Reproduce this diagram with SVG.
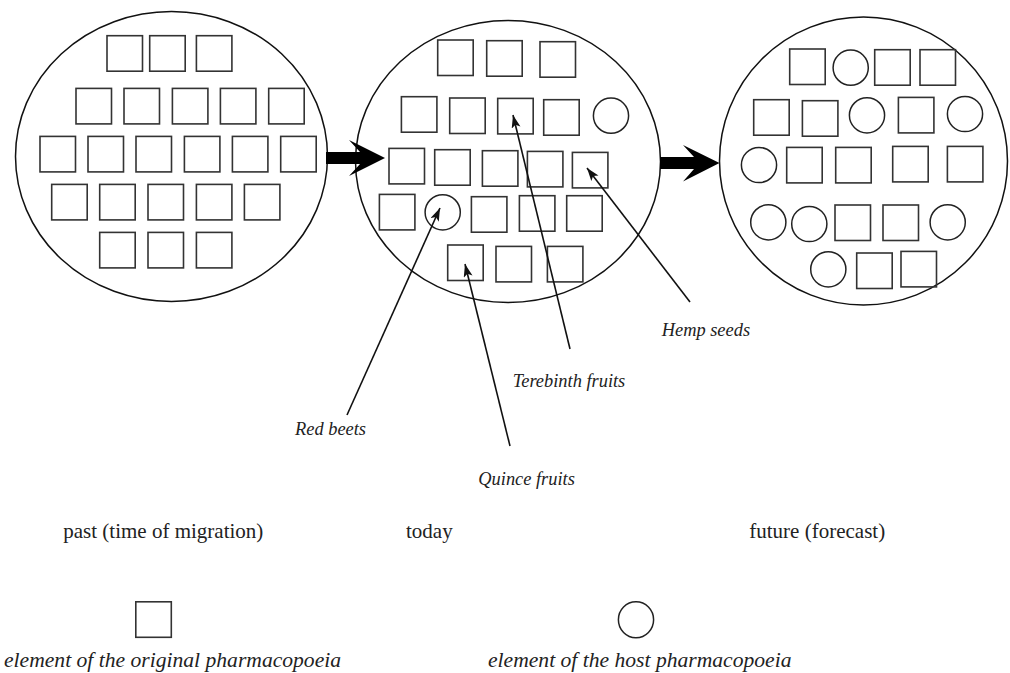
<svg xmlns="http://www.w3.org/2000/svg" width="1010" height="673" viewBox="0 0 1010 673">
<style>
.pool{fill:none;stroke:#111;stroke-width:1.5}
.sq{fill:none;stroke:#333;stroke-width:1.6}
.ci{fill:none;stroke:#222;stroke-width:1.5}
.ptr{stroke:#111;stroke-width:1.6;fill:none;marker-end:url(#ah)}
.big{fill:#000}
.lab{font-family:"Liberation Serif","Times New Roman",serif;font-style:italic;font-size:18.4px;fill:#222}
.per{font-family:"Liberation Serif","Times New Roman",serif;font-size:21px;fill:#222}
.leg{font-family:"Liberation Serif","Times New Roman",serif;font-style:italic;font-size:21.6px;fill:#222}
</style>
<defs>
<marker id="ah" markerUnits="userSpaceOnUse" markerWidth="14" markerHeight="10" refX="13" refY="4.5" orient="auto">
<path d="M0,0 L13,4.5 L0,9 L3,4.5 Z" fill="#111"/>
</marker>
<rect id="s" width="35.5" height="35.5" class="sq"/>
<circle id="c" r="17.6" class="ci"/>
</defs>

<g id="past">
<ellipse class="pool" cx="171.5" cy="156.5" rx="156" ry="145"/>
<use href="#s" x="107" y="35.7"/><use href="#s" x="149.7" y="35.7"/><use href="#s" x="196.4" y="35.7"/>
<use href="#s" x="76" y="88.4"/><use href="#s" x="124" y="88.4"/><use href="#s" x="172.4" y="88.4"/><use href="#s" x="220.4" y="88.4"/><use href="#s" x="268.7" y="88.4"/>
<use href="#s" x="40" y="136.4"/><use href="#s" x="88" y="136.4"/><use href="#s" x="136" y="136.4"/><use href="#s" x="184.4" y="136.4"/><use href="#s" x="232.4" y="136.4"/><use href="#s" x="280.7" y="136.4"/>
<use href="#s" x="51.7" y="184.4"/><use href="#s" x="99.7" y="184.4"/><use href="#s" x="148" y="184.4"/><use href="#s" x="196.4" y="184.4"/><use href="#s" x="244.4" y="184.4"/>
<use href="#s" x="99.7" y="232.4"/><use href="#s" x="148" y="232.4"/><use href="#s" x="196.4" y="232.4"/>
</g>

<g id="today">
<ellipse class="pool" cx="508" cy="161.5" rx="152.5" ry="141"/>
<use href="#s" x="437.7" y="40"/><use href="#s" x="486.7" y="40.7"/><use href="#s" x="540" y="41.7"/>
<use href="#s" x="401.4" y="96.7"/><use href="#s" x="449.7" y="98"/><use href="#s" x="497.7" y="98.4"/><use href="#s" x="543.7" y="99.7"/><use href="#c" x="611" y="115.7"/>
<use href="#s" x="389" y="148.4"/><use href="#s" x="434.7" y="149.7"/><use href="#s" x="482.4" y="150.7"/><use href="#s" x="527.4" y="151.4"/><use href="#s" x="572.4" y="152.4"/>
<use href="#s" x="379.4" y="194.4"/><use href="#c" x="442.7" y="212.3"/><use href="#s" x="471.4" y="196.7"/><use href="#s" x="519.4" y="195.7"/><use href="#s" x="566.7" y="195.7"/>
<use href="#s" x="447.7" y="245"/><use href="#s" x="496" y="246.4"/><use href="#s" x="547.4" y="246.4"/>
</g>

<g id="future">
<ellipse class="pool" cx="863.5" cy="161" rx="144" ry="144"/>
<use href="#s" x="789.7" y="49"/><use href="#c" x="850.7" y="67.7"/><use href="#s" x="874.7" y="49.7"/><use href="#s" x="920" y="49.7"/>
<use href="#s" x="753.7" y="99.7"/><use href="#s" x="802.4" y="100.7"/><use href="#c" x="867" y="115.3"/><use href="#s" x="898.4" y="97.4"/><use href="#c" x="965" y="114"/>
<use href="#c" x="759" y="165"/><use href="#s" x="786.7" y="147.4"/><use href="#s" x="835.7" y="147.4"/><use href="#s" x="892.7" y="146.4"/><use href="#s" x="947.4" y="146.4"/>
<use href="#c" x="768.3" y="222.3"/><use href="#c" x="809.3" y="224"/><use href="#s" x="835" y="205"/><use href="#s" x="883" y="205"/><use href="#c" x="947.7" y="222.3"/>
<use href="#c" x="828.3" y="269.3"/><use href="#s" x="856.7" y="253"/><use href="#s" x="901" y="251.4"/>
</g>

<g id="connectors">
<path class="big" d="M326,152 L360,152 L349,140 L385,158 L349,176 L360,164 L326,164 Z"/>
<path class="big" d="M660,157 L694,157 L683,145 L719.5,163 L683,181.5 L694,169 L660,169 Z"/>
<line class="ptr" x1="347" y1="415" x2="440" y2="208"/>
<line class="ptr" x1="510" y1="446" x2="465" y2="264"/>
<line class="ptr" x1="570" y1="349" x2="513" y2="115"/>
<line class="ptr" x1="690" y1="302" x2="587" y2="168"/>
</g>

<g id="labels">
<text class="lab" x="295" y="435">Red beets</text>
<text class="lab" x="512.7" y="387">Terebinth fruits</text>
<text class="lab" x="478.3" y="485">Quince fruits</text>
<text class="lab" x="661.7" y="336">Hemp seeds</text>
<text class="per" x="63.3" y="538">past (time of migration)</text>
<text class="per" x="406" y="538">today</text>
<text class="per" x="749.3" y="538">future (forecast)</text>
</g>

<g id="legend">
<rect class="sq" x="135.8" y="601.8" width="35.5" height="35.5"/>
<ellipse class="ci" cx="636" cy="619.7" rx="17.6" ry="18"/>
<text class="leg" x="4" y="667">element of the original pharmacopoeia</text>
<text class="leg" x="488" y="667">element of the host pharmacopoeia</text>
</g>
</svg>
